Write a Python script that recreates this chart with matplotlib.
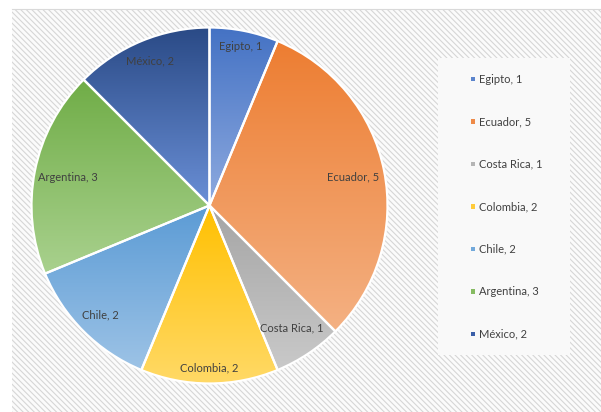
import numpy as np
import matplotlib
matplotlib.use('Agg')
import matplotlib.pyplot as plt
from matplotlib.colors import LinearSegmentedColormap
from matplotlib.patches import Rectangle
from matplotlib.lines import Line2D

paises = ['Egipto', 'Ecuador', 'Costa Rica', 'Colombia', 'Chile', 'Argentina', 'México']
valores = [1, 5, 1, 2, 2, 3, 2]
etiquetas = ['%s, %d' % (p, v) for p, v in zip(paises, valores)]

# degradado de cada porción: color arriba / color abajo
col_sup = ['#4472C4', '#ED7D31', '#A5A5A5', '#FFC000', '#5B9BD5', '#70AD47', '#2A4A86']
col_inf = ['#8EAADF', '#F4B183', '#C9C9C9', '#FFD966', '#9DC3E6', '#A9D18E', '#6A8FD6']
col_ley = ['#5B84CC', '#EE8A48', '#B5B5B5', '#FFCB3A', '#72A9DB', '#86BB62', '#3B5FA8']
# distancia de cada etiqueta al centro (fraccion del radio)
dist_etq = [0.91, 0.82, 0.83, 0.91, 0.87, 0.81, 0.88]

W, H = 601, 412
plt.rcParams['font.family'] = ['Lato', 'DejaVu Sans']
plt.rcParams['hatch.linewidth'] = 0.8

fig = plt.figure(figsize=(W / 100, H / 100), dpi=100)
fig.patch.set_facecolor('white')

# fondo rayado
fondo = Rectangle((12 / W, 0), 1, (H - 9) / H, transform=fig.transFigure,
                  facecolor='#fbfbfb', edgecolor='#d6d6d6', hatch='\\\\\\\\\\\\',
                  linewidth=0, zorder=-10)
fig.patches.append(fondo)
fig.lines.append(Line2D([12 / W, 1], [(H - 9) / H] * 2, transform=fig.transFigure,
                        color='#d9d9d9', linewidth=0.8, zorder=-9))

# ejes del grafico circular
cx, cy, R = 209.5, 205.5, 178
lim = 1.02
half = R * lim
ax = fig.add_axes([(cx - half) / W, (H - cy - half) / H, 2 * half / W, 2 * half / H])
ax.set_facecolor('none')
ax.set_zorder(5)

wedges, _ = ax.pie(valores, startangle=90, counterclock=False, radius=1,
                   wedgeprops=dict(facecolor='none', edgecolor='white', linewidth=1.6))

grad = np.linspace(0, 1, 256).reshape(-1, 1)
for w, c1, c2 in zip(wedges, col_sup, col_inf):
    w.set_zorder(3)
    th = np.radians(np.linspace(w.theta1, w.theta2, 200))
    xs = np.concatenate([[0], np.cos(th)])
    ys = np.concatenate([[0], np.sin(th)])
    cmap = LinearSegmentedColormap.from_list('g', [c1, c2])
    im = ax.imshow(grad, extent=(xs.min(), xs.max(), ys.min(), ys.max()),
                   cmap=cmap, aspect='auto', origin='upper', zorder=2)
    im.set_clip_path(w)

for w, etq, d in zip(wedges, etiquetas, dist_etq):
    a = np.radians((w.theta1 + w.theta2) / 2)
    ax.text(d * np.cos(a), d * np.sin(a), etq, ha='center', va='center',
            fontsize=8, color='#404040', zorder=4)

ax.set_xlim(-lim, lim)
ax.set_ylim(-lim, lim)
ax.set_aspect('equal')
ax.axis('off')

# leyenda
fig.patches.append(Rectangle((438 / W, (H - 355) / H), (570 - 438) / W, (355 - 58) / H,
                             transform=fig.transFigure, facecolor='#f9f9f9',
                             edgecolor='none', zorder=1))
y0, paso = 79.3, 42.5
for i, (etq, c) in enumerate(zip(etiquetas, col_ley)):
    y = y0 + i * paso
    fig.patches.append(Rectangle((470.5 / W, (H - y - 2) / H), 4.5 / W, 4.5 / H,
                                 transform=fig.transFigure, facecolor=c,
                                 edgecolor='none', zorder=2))
    fig.text(479 / W, (H - y) / H, etq, ha='left', va='center',
             fontsize=8, color='#404040', zorder=3)

fig.savefig('out.png', dpi=100)
